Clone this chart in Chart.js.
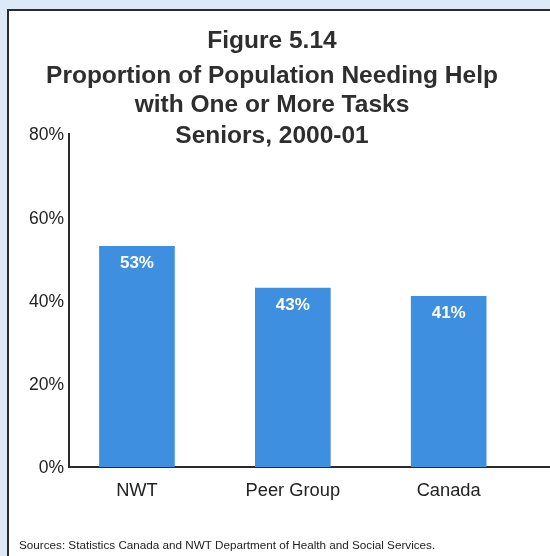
<!DOCTYPE html>
<html>
<head>
<meta charset="utf-8">
<script src="https://cdn.jsdelivr.net/npm/chart.js@4"></script>
<style>
  html, body { margin:0; padding:0; }
  body { width:550px; height:556px; overflow:hidden; background:#dde9f6; position:relative; font-family:"Liberation Sans", Arial, sans-serif; }
  #panel { position:absolute; left:7px; top:9px; width:600px; height:600px; background:#fff; border-left:2px solid #2b2b2b; border-top:2px solid #2b2b2b; }
  #wrap { position:absolute; left:0; top:0; width:550px; height:556px; }
  .t { position:absolute; left:0; width:544px; text-align:center; font-weight:bold; font-size:24.5px; line-height:28px; color:#2e2e2e; white-space:nowrap; }
  #src { position:absolute; left:19px; top:538px; font-size:11.7px; color:#222; white-space:nowrap; }
</style>
</head>
<body>
<div id="panel"></div>
<div id="wrap"><canvas id="c" width="550" height="556"></canvas></div>
<div class="t" style="top:26px">Figure 5.14</div>
<div class="t" style="top:61px">Proportion of Population Needing Help</div>
<div class="t" style="top:90px">with One or More Tasks</div>
<div class="t" style="top:121px">Seniors, 2000-01</div>
<div id="src">Sources: Statistics Canada and NWT Department of Health and Social Services.</div>
<script>
const categories = ["NWT", "Peer Group", "Canada"];
const values = [53, 43, 41];
const yTicks = [0, 20, 40, 60, 80];

const barLabels = {
  id: 'barLabels',
  afterDatasetsDraw(chart) {
    const ctx = chart.ctx;
    const meta = chart.getDatasetMeta(0);
    ctx.save();
    ctx.fillStyle = '#ffffff';
    ctx.font = 'bold 17px "Liberation Sans", Arial, sans-serif';
    ctx.textAlign = 'center';
    ctx.textBaseline = 'middle';
    meta.data.forEach((el, i) => {
      ctx.fillText(values[i] + '%', el.x, el.y + 17);
    });
    ctx.restore();
  }
};

new Chart(document.getElementById('c'), {
  type: 'bar',
  data: {
    datasets: [{
      data: values.map((v, i) => ({ x: i, y: v })),
      backgroundColor: '#3f8fe0',
      borderWidth: 0,
      barThickness: 75
    }]
  },
  options: {
    responsive: false,
    animation: false,
    layout: { padding: { top: 134, right: 0, left: 0, bottom: 0 } },
    plugins: { legend: { display: false }, tooltip: { enabled: false }, title: { display: false } },
    scales: {
      x: {
        type: 'linear',
        offset: false,
        min: -0.436,
        max: 2.65,
        grid: { display: false, drawTicks: false, offset: false },
        border: { display: true, color: '#2b2b2b', width: 2 },
        afterBuildTicks(scale) { scale.ticks = categories.map((c, i) => ({ value: i })); },
        afterFit(scale) { scale.height = 89; },
        ticks: {
          padding: 13,
          color: '#222',
          font: { size: 18.3, family: '"Liberation Sans", Arial, sans-serif' },
          callback: (v) => categories[v]
        }
      },
      y: {
        min: 0,
        max: 80,
        grid: { display: false, drawTicks: false },
        border: { display: true, color: '#2b2b2b', width: 2 },
        afterBuildTicks(scale) { scale.ticks = yTicks.map(v => ({ value: v })); },
        afterFit(scale) { scale.width = 69; },
        ticks: {
          padding: 5,
          labelOffset: 1.5,
          color: '#222',
          font: { size: 17.5, family: '"Liberation Sans", Arial, sans-serif' },
          callback: (v) => v + '%'
        }
      }
    }
  },
  plugins: [barLabels]
});
</script>
</body>
</html>
